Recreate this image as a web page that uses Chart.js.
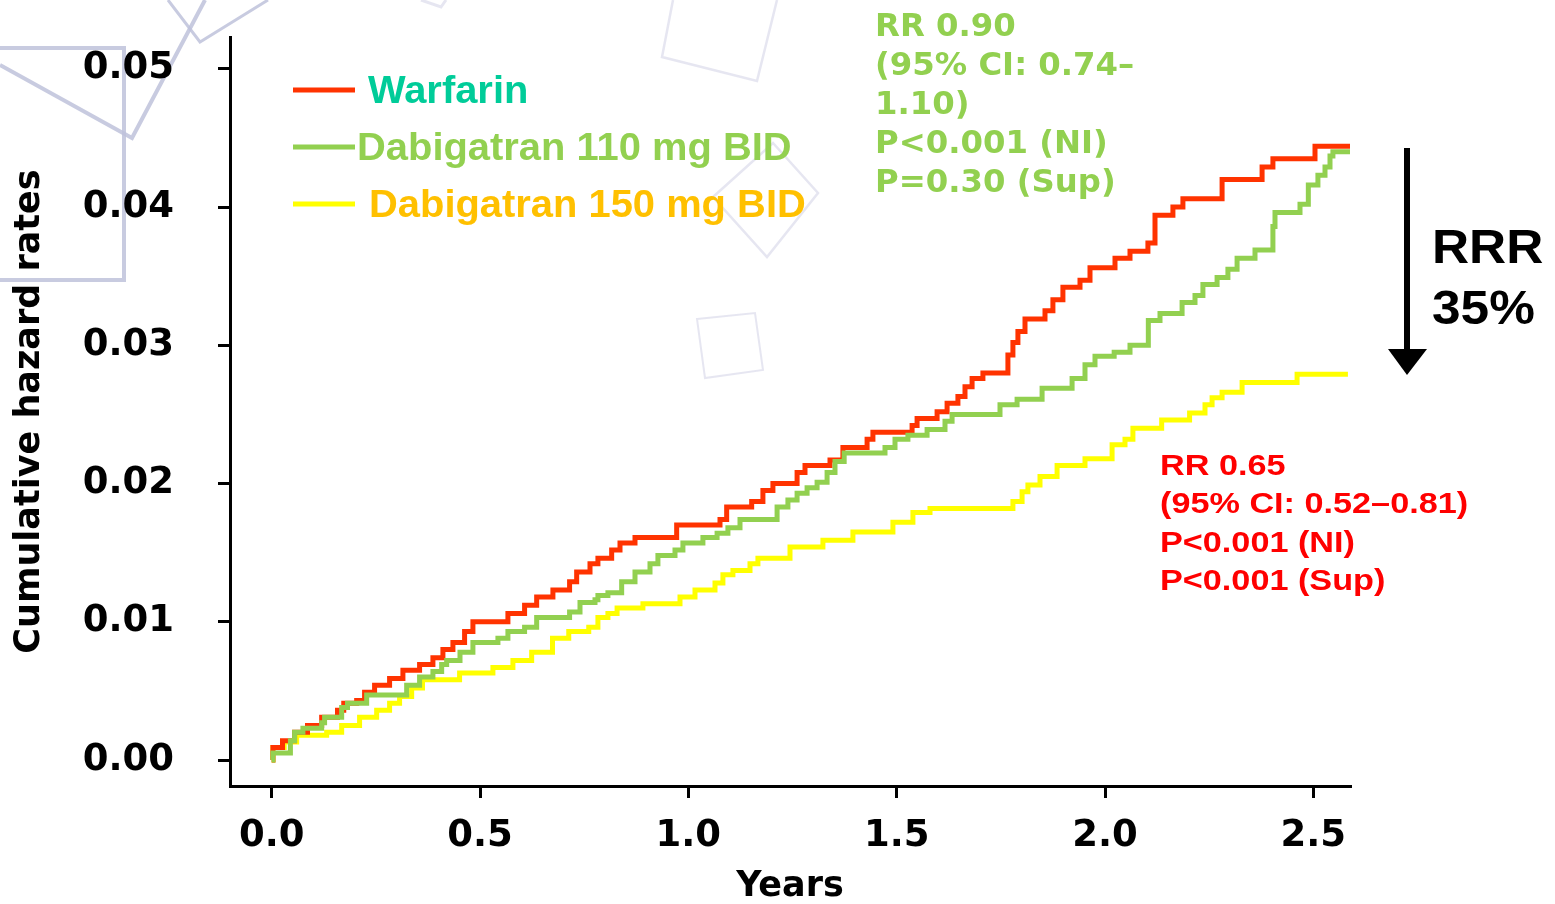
<!DOCTYPE html>
<html><head><meta charset="utf-8">
<script src="https://cdn.jsdelivr.net/npm/chart.js@4.4.1/dist/chart.umd.min.js"></script>
<style>html,body{margin:0;padding:0;background:#fff;}#wrap{width:1555px;height:904px;position:relative;}</style>
</head><body><div id="wrap"><canvas id="c" width="1555" height="904"></canvas></div>
<script>
// ---- data (years, cumulative hazard) ----
const warfarinYears = [0, 0.003, 0.026, 0.055, 0.086, 0.120, 0.158, 0.173, 0.204, 0.223, 0.247, 0.283, 0.315, 0.355, 0.387, 0.411, 0.435, 0.463, 0.483, 0.567, 0.607, 0.636, 0.675, 0.715, 0.732, 0.764, 0.783, 0.816, 0.836, 0.872, 0.972, 1.076, 1.092, 1.152, 1.179, 1.203, 1.261, 1.280, 1.340, 1.371, 1.429, 1.443, 1.537, 1.549, 1.597, 1.621, 1.647, 1.664, 1.681, 1.707, 1.767, 1.779, 1.791, 1.808, 1.856, 1.875, 1.899, 1.940, 1.964, 2.024, 2.060, 2.103, 2.120, 2.163, 2.187, 2.281, 2.377, 2.403, 2.504, 2.588];
const warfarinRates = [0, 0.0009, 0.0014, 0.0020, 0.0025, 0.0031, 0.0036, 0.0041, 0.0043, 0.0049, 0.0054, 0.0059, 0.0065, 0.0069, 0.0074, 0.0080, 0.0085, 0.0093, 0.0100, 0.0106, 0.0112, 0.0118, 0.0123, 0.0129, 0.0136, 0.0142, 0.0146, 0.0152, 0.0157, 0.0161, 0.0170, 0.0174, 0.0183, 0.0187, 0.0195, 0.0200, 0.0208, 0.0213, 0.0217, 0.0226, 0.0232, 0.0237, 0.0242, 0.0247, 0.0252, 0.0258, 0.0263, 0.0270, 0.0276, 0.0280, 0.0293, 0.0302, 0.0310, 0.0319, 0.0325, 0.0333, 0.0342, 0.0347, 0.0356, 0.0363, 0.0368, 0.0374, 0.0394, 0.0400, 0.0406, 0.0420, 0.0429, 0.0435, 0.0444, 0.0444];

const dab110Years = [0, 0.003, 0.045, 0.055, 0.075, 0.120, 0.127, 0.168, 0.182, 0.228, 0.324, 0.355, 0.387, 0.408, 0.420, 0.452, 0.483, 0.543, 0.567, 0.607, 0.636, 0.715, 0.740, 0.776, 0.783, 0.807, 0.840, 0.872, 0.908, 0.927, 0.968, 0.987, 1.035, 1.069, 1.095, 1.124, 1.213, 1.239, 1.261, 1.285, 1.309, 1.333, 1.352, 1.374, 1.472, 1.496, 1.527, 1.573, 1.616, 1.633, 1.748, 1.789, 1.849, 1.921, 1.952, 1.976, 2.022, 2.060, 2.104, 2.132, 2.185, 2.216, 2.235, 2.269, 2.295, 2.317, 2.360, 2.403, 2.408, 2.468, 2.488, 2.511, 2.528, 2.540, 2.547, 2.588];
const dab110Rates = [0, 0.0005, 0.0014, 0.0020, 0.0023, 0.0027, 0.0031, 0.0038, 0.0041, 0.0047, 0.0054, 0.0060, 0.0064, 0.0069, 0.0072, 0.0078, 0.0085, 0.0088, 0.0093, 0.0096, 0.0103, 0.0107, 0.0114, 0.0116, 0.0119, 0.0121, 0.0129, 0.0136, 0.0142, 0.0148, 0.0152, 0.0157, 0.0161, 0.0164, 0.0168, 0.0174, 0.0183, 0.0188, 0.0193, 0.0197, 0.0201, 0.0208, 0.0216, 0.0222, 0.0226, 0.0232, 0.0235, 0.0239, 0.0245, 0.0250, 0.0257, 0.0261, 0.0269, 0.0276, 0.0286, 0.0292, 0.0295, 0.0300, 0.0318, 0.0323, 0.0331, 0.0336, 0.0344, 0.0349, 0.0355, 0.0363, 0.0369, 0.0386, 0.0396, 0.0402, 0.0416, 0.0423, 0.0429, 0.0437, 0.0440, 0.0440];

const dab150Years = [0, 0.003, 0.030, 0.060, 0.132, 0.168, 0.211, 0.252, 0.283, 0.307, 0.336, 0.362, 0.451, 0.531, 0.579, 0.624, 0.674, 0.713, 0.761, 0.783, 0.807, 0.829, 0.891, 0.980, 1.016, 1.064, 1.083, 1.107, 1.148, 1.167, 1.244, 1.323, 1.395, 1.491, 1.539, 1.580, 1.779, 1.801, 1.815, 1.844, 1.885, 1.952, 2.017, 2.048, 2.067, 2.136, 2.203, 2.240, 2.257, 2.281, 2.329, 2.461, 2.583];
const dab150Rates = [0, 0.0009, 0.0013, 0.0018, 0.0020, 0.0025, 0.0031, 0.0036, 0.0041, 0.0046, 0.0052, 0.0058, 0.0063, 0.0067, 0.0072, 0.0078, 0.0088, 0.0093, 0.0096, 0.0103, 0.0106, 0.0110, 0.0113, 0.0118, 0.0123, 0.0128, 0.0134, 0.0137, 0.0142, 0.0146, 0.0154, 0.0159, 0.0165, 0.0172, 0.0179, 0.0182, 0.0187, 0.0194, 0.0199, 0.0205, 0.0213, 0.0218, 0.0228, 0.0232, 0.0240, 0.0246, 0.0251, 0.0257, 0.0262, 0.0266, 0.0273, 0.0279, 0.0279];

const xTickValues = [0, 0.5, 1.0, 1.5, 2.0, 2.5];
const yTickValues = [0, 0.01, 0.02, 0.03, 0.04, 0.05];
const seriesNames = ['Warfarin', 'Dabigatran 110 mg BID', 'Dabigatran 150 mg BID'];
const xTitle = 'Years';
const yTitle = 'Cumulative hazard rates';
const note110 = ['RR 0.90', '(95% CI: 0.74\u2013', '1.10)', 'P<0.001 (NI)', 'P=0.30 (Sup)'];
const note150 = ['RR 0.65', '(95% CI: 0.52\u20130.81)', 'P<0.001 (NI)', 'P<0.001 (Sup)'];
const rrrNote = ['RRR', '35%'];

// ---- styling ----
const RED = '#FF3300', GREEN = '#92D050', YELLOW = '#FFFF00';
const TICKFONT = {family: '"DejaVu Sans", Verdana, sans-serif', weight: 'bold', size: 37, lineHeight: 1.2};
const TITLEFONT = {family: '"DejaVu Sans", Verdana, sans-serif', weight: 'bold', size: 35, lineHeight: 1.0};

function pts(xs, ys) { return xs.map((x, i) => ({x: x, y: ys[i]})); }

function txt(ctx, s, x, y, font, color, sx) {
  ctx.save(); ctx.translate(x, y); ctx.scale(sx || 1, 1);
  ctx.font = font; ctx.fillStyle = color; ctx.textBaseline = 'alphabetic'; ctx.textAlign = 'left';
  ctx.fillText(s, 0, 0); ctx.restore();
}
function poly(ctx, p, color, w, close) {
  ctx.save(); ctx.strokeStyle = color; ctx.lineWidth = w; ctx.lineJoin = 'miter';
  ctx.beginPath(); ctx.moveTo(p[0][0], p[0][1]);
  for (let i = 1; i < p.length; i++) ctx.lineTo(p[i][0], p[i][1]);
  if (close) ctx.closePath();
  ctx.stroke(); ctx.restore();
}

const decor = {
  id: 'decor',
  beforeDraw(chart) {
    const ctx = chart.ctx;
    ctx.save(); ctx.fillStyle = '#fff'; ctx.fillRect(0, 0, chart.width, chart.height); ctx.restore();
    const c1 = 'rgba(190,194,218,0.85)', c2 = 'rgba(222,222,236,0.75)';
    poly(ctx, [[0,48],[124,48],[124,280],[0,280]], c1, 4, false);
    poly(ctx, [[0,65],[132,138],[205,0]], c1, 4, false);
    poly(ctx, [[168,0],[200,42],[268,0]], c1, 3, false);
    poly(ctx, [[421,0],[441,7],[446,0]], c2, 3, false);
    poly(ctx, [[673,0],[662,57],[757,81],[777,0]], c2, 2.5, false);
    poly(ctx, [[713,197],[773,143],[818,193],[767,257]], c2, 2.5, true);
    poly(ctx, [[697,319],[755,313],[763,370],[705,378]], c2, 2, true);
  },
  afterDraw(chart) {
    const ctx = chart.ctx;
    // legend
    const lf = 'bold 38px "Liberation Sans", Arial, sans-serif';
    const legendColors = [RED, GREEN, YELLOW];
    const textColors = ['#00CC99', GREEN, '#FFC000'];
    const ly = [90, 147, 204];
    const tx = [368, 357, 369];
    for (let i = 0; i < 3; i++) {
      ctx.save(); ctx.strokeStyle = legendColors[i]; ctx.lineWidth = 5;
      ctx.beginPath(); ctx.moveTo(293, ly[i]); ctx.lineTo(355, ly[i]); ctx.stroke(); ctx.restore();
      txt(ctx, seriesNames[i], tx[i], ly[i] + 13, lf, textColors[i], 1.05);
    }
    // RR 0.90 note
    const gf = 'bold 32px "DejaVu Sans", Verdana, sans-serif';
    note110.forEach((s, i) => txt(ctx, s, 875, 36 + i * 39, gf, GREEN, 1.01));
    // RR 0.65 note
    const rf = 'bold 29px "Liberation Sans", Arial, sans-serif';
    note150.forEach((s, i) => txt(ctx, s, 1160, 475 + i * 38.3, rf, '#FF0000', 1.18));
    // arrow
    ctx.save(); ctx.strokeStyle = '#000'; ctx.lineWidth = 6;
    ctx.beginPath(); ctx.moveTo(1407, 148); ctx.lineTo(1407, 352); ctx.stroke();
    ctx.fillStyle = '#000'; ctx.beginPath(); ctx.moveTo(1388, 349); ctx.lineTo(1427, 349); ctx.lineTo(1407, 375); ctx.closePath(); ctx.fill();
    ctx.restore();
    const bf = 'bold 48px "Liberation Sans", Arial, sans-serif';
    txt(ctx, rrrNote[0], 1432, 263, bf, '#000', 1.07);
    txt(ctx, rrrNote[1], 1432, 324, bf, '#000', 1.07);
  }
};

const axisCommon = {
  type: 'linear',
  grid: {display: true, drawOnChartArea: false, drawTicks: true, tickLength: 12, color: '#000', lineWidth: 3},
  border: {display: true, color: '#000', width: 3},
};

new Chart(document.getElementById('c'), {
  type: 'line',
  data: {
    datasets: [
      {label: seriesNames[0], data: pts(warfarinYears, warfarinRates), borderColor: RED, order: 1},
      {label: seriesNames[1], data: pts(dab110Years, dab110Rates), borderColor: GREEN, order: 0},
      {label: seriesNames[2], data: pts(dab150Years, dab150Rates), borderColor: YELLOW, order: 2}
    ].map(d => Object.assign(d, {stepped: 'before', borderWidth: 5, pointRadius: 0, fill: false, tension: 0, borderJoinStyle: 'miter'}))
  },
  options: {
    responsive: false, animation: false, devicePixelRatio: 1,
    layout: {padding: {left: 0, top: 37, right: 205, bottom: 0}},
    plugins: {legend: {display: false}, tooltip: {enabled: false}},
    scales: {
      x: Object.assign({}, axisCommon, {
        position: 'bottom', min: -0.1, max: 2.588,
        afterBuildTicks: s => { s.ticks = xTickValues.map(v => ({value: v})); },
        afterFit: s => { s.height = 118; s.paddingLeft = 0; s.paddingRight = 0; },
        ticks: {color: '#000', font: TICKFONT, padding: 16, maxRotation: 0, autoSkip: false, callback: v => Number(v).toFixed(1)},
        title: {display: true, text: xTitle, color: '#000', font: TITLEFONT, padding: {top: 0, bottom: 0}}
      }),
      y: Object.assign({}, axisCommon, {
        position: 'left', min: -0.00188, max: 0.0523,
        afterBuildTicks: s => { s.ticks = yTickValues.map(v => ({value: v})); },
        afterFit: s => { s.width = 230; s.paddingTop = 0; s.paddingBottom = 0; },
        ticks: {color: '#000', font: TICKFONT, padding: 44, autoSkip: false, callback: v => Number(v).toFixed(2)},
        title: {display: true, text: yTitle, color: '#000', font: TITLEFONT, padding: {top: 12, bottom: 0}}
      })
    }
  },
  plugins: [decor]
});
</script></body></html>
